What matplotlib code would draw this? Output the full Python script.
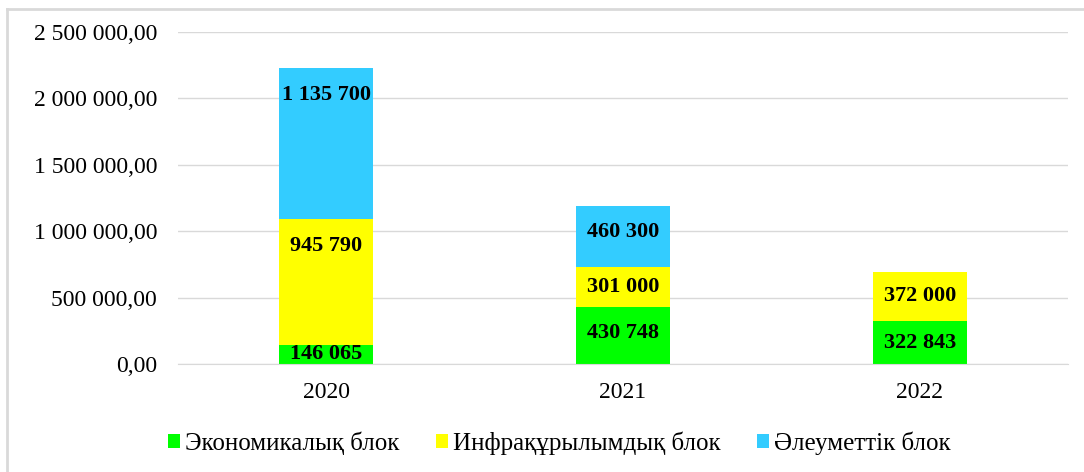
import matplotlib.pyplot as plt
from matplotlib.lines import Line2D
from matplotlib.ticker import FuncFormatter

plt.rcParams["font.family"] = ["Liberation Serif", "DejaVu Serif"]

years = ["2020", "2021", "2022"]
series_names = ["Экономикалық блок", "Инфрақұрылымдық блок", "Әлеуметтік блок"]
economic = [146065, 430748, 322843]
infra = [945790, 301000, 372000]
social = [1135700, 460300, 0]
colors = ["#00FF00", "#FFFF00", "#33CCFF"]
y_ticks = [0, 500000, 1000000, 1500000, 2000000, 2500000]


def space_thousands(value, decimals=0):
    text = f"{value:,.{decimals}f}".replace(",", " ").replace(".", ",")
    return text


fig = plt.figure(figsize=(10.84, 4.72), dpi=100)
ax = fig.add_axes([178 / 1084, 1 - 364 / 472, 890 / 1084, 332 / 472])

x = range(len(years))
bottom = [0, 0, 0]
for values, color, name in zip((economic, infra, social), colors, series_names):
    ax.bar(x, values, width=0.317, bottom=bottom, color=color, label=name, zorder=2)
    for i, v in enumerate(values):
        if v <= 0:
            continue
        top = bottom[i] + v
        label_y = top - min(v / 2, 200000)
        ax.text(i, label_y, space_thousands(v), ha="center", va="center",
                fontsize=16, fontweight="bold", zorder=3)
    bottom = [b + v for b, v in zip(bottom, values)]

ax.set_xlim(-0.5, 2.5)
ax.set_ylim(0, 2500000)
ax.set_yticks(y_ticks)
ax.yaxis.set_major_formatter(FuncFormatter(lambda v, _: space_thousands(v, 2)))
ax.set_xticks(list(x))
ax.set_xticklabels(years)
ax.tick_params(axis="y", length=0, labelsize=17, pad=15)
ax.tick_params(axis="x", length=0, labelsize=17, pad=13)
ax.grid(axis="y", color="#d9d9d9", linewidth=1, zorder=0)
for side in ("top", "right", "left"):
    ax.spines[side].set_visible(False)
ax.spines["bottom"].set_color("#d9d9d9")

handles, labels = ax.get_legend_handles_labels()
fig.legend(handles, labels, loc="center left",
           bbox_to_anchor=(168 / 1084, 1 - 443 / 472), ncol=3, frameon=False,
           fontsize=18, handlelength=0.48, handleheight=0.48, handletextpad=0.2,
           columnspacing=1.45, borderpad=0, borderaxespad=0)

# chart frame: only the top and left edges show in the cropped original
border = dict(transform=fig.transFigure, color="#d9d9d9", linewidth=2)
fig.lines.append(Line2D([7 / 1084, 1], [1 - 9 / 472] * 2, **border))
fig.lines.append(Line2D([7 / 1084] * 2, [0, 1 - 9 / 472], **border))

fig.savefig("out.png", dpi=100)
